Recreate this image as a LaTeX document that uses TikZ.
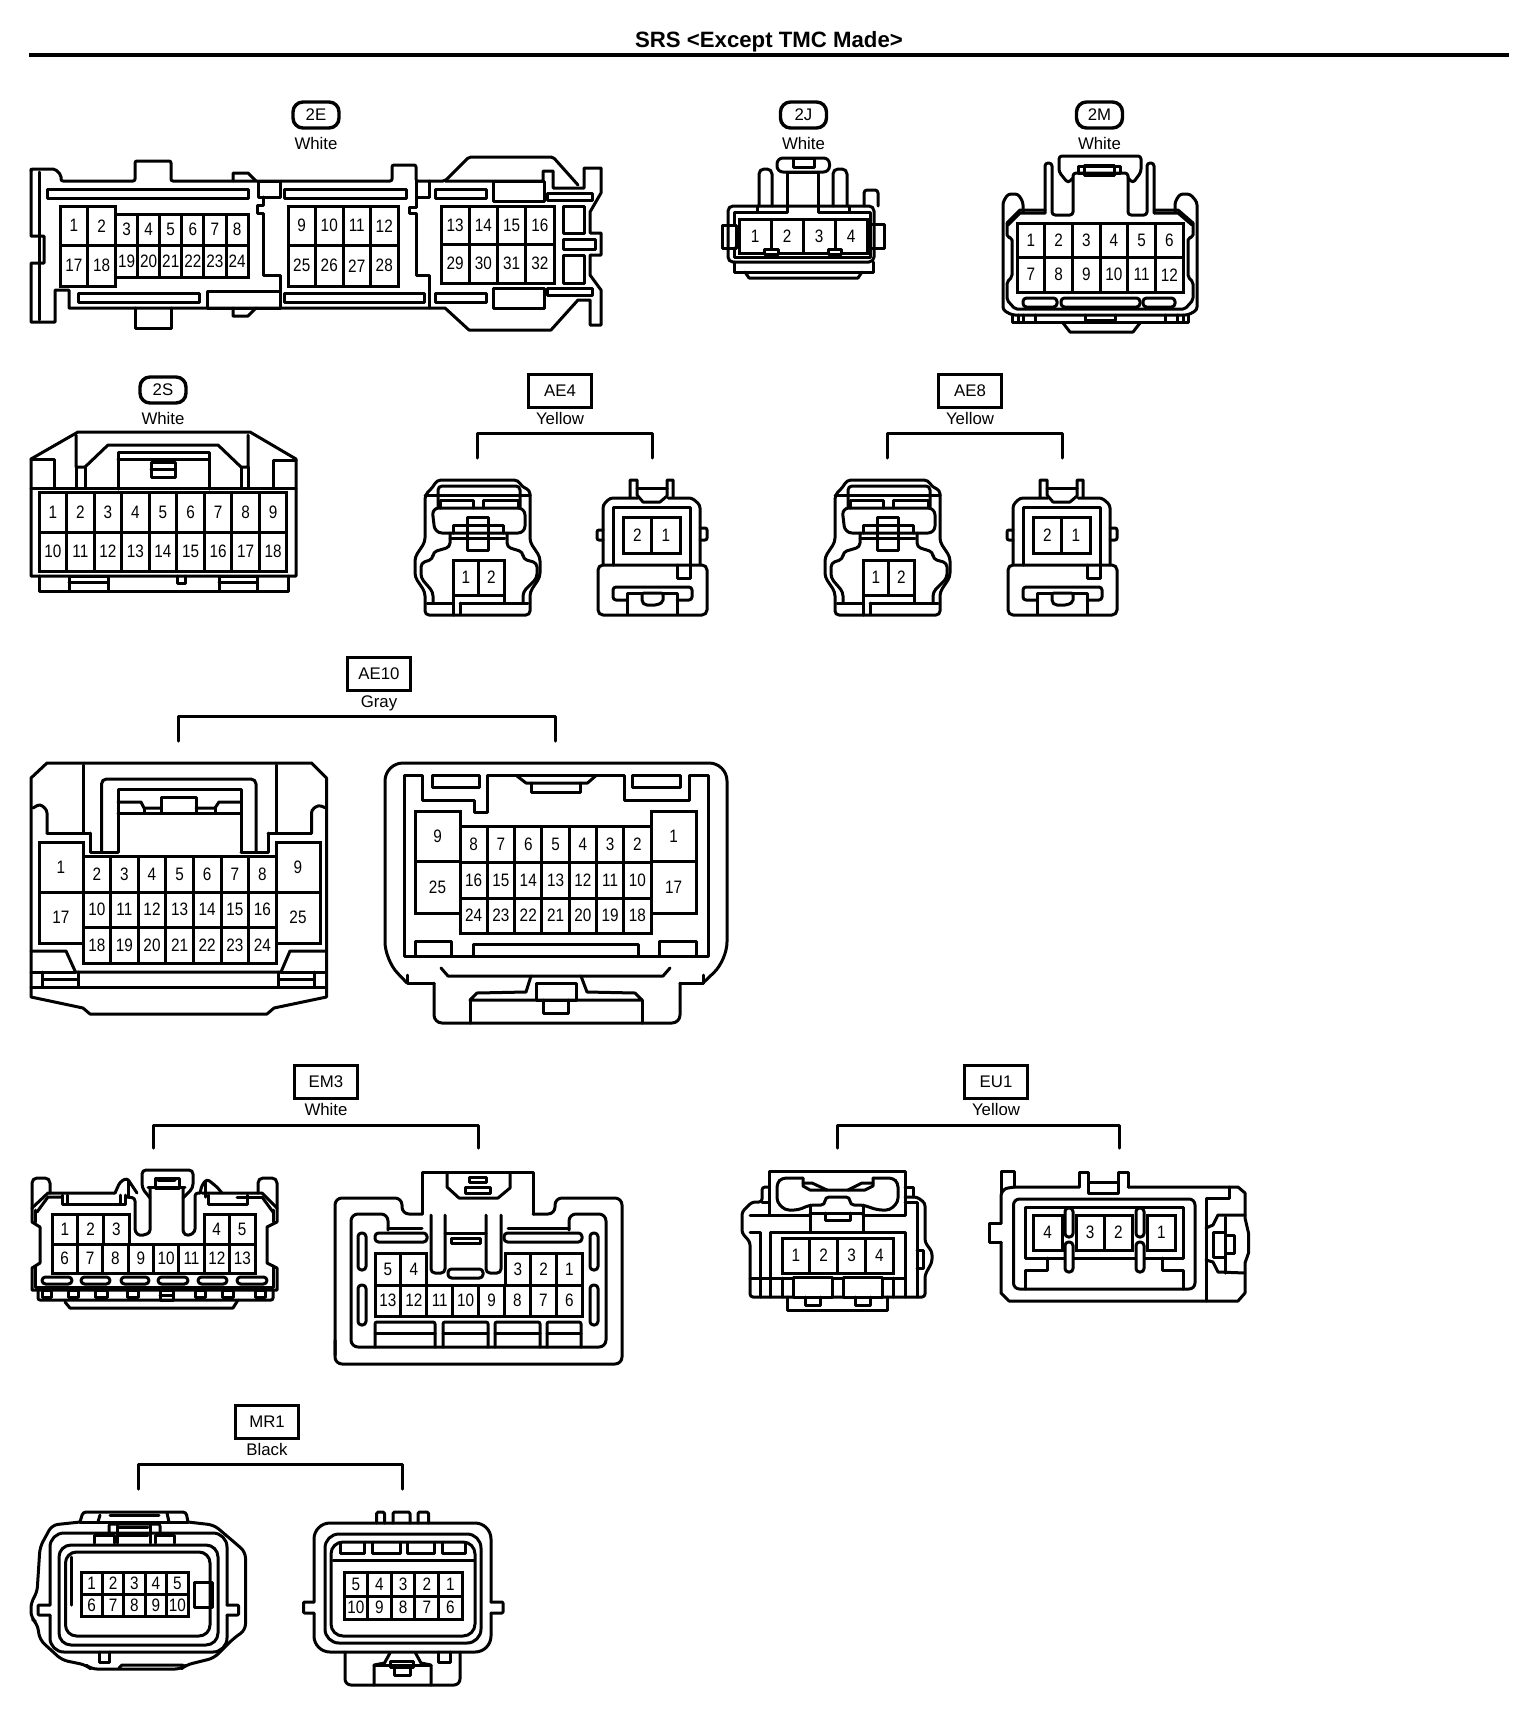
\documentclass[tikz,border=0pt]{standalone}
\usepackage{fontspec}
\setmainfont{Liberation Sans}
\newfontfamily\pinfont[FakeStretch=0.85]{Liberation Sans}
\usetikzlibrary{positioning}
\tikzset{
    outline/.style={line width=3pt, line join=round, line cap=round},
    slot/.style={outline, rounded corners=3.5pt},
    pincell/.style={
        rectangle,
        draw=black, line width=3pt,
        inner sep=0pt, outer sep=0pt,
        font=\pinfont\fontsize{18}{18}\selectfont
    },
    badge/.style={
        rectangle,
        rounded corners=10pt,
        draw=black, line width=3.4pt,
        minimum width=46pt,
        minimum height=26pt,
        inner sep=0pt,
        font=\fontsize{16.8}{17}\selectfont
    },
    tagbox/.style={
        rectangle,
        draw=black, line width=3pt,
        minimum width=63pt,
        minimum height=33pt,
        inner sep=0pt,
        font=\fontsize{16.8}{17}\selectfont
    },
    colourtext/.style={inner sep=0pt, font=\fontsize{16.8}{17}\selectfont}
}
\newcommand{\pinrow}[6]{%
    \foreach \l [count=\k from 0] in {#6}
        \node[pincell, minimum width=#4, minimum height=#5] (#1-\l) at ({#2+(\k+.5)*#4},{#3+#5/2}) {\l};
}
\begin{document}
\begin{tikzpicture}[x=1pt,y=-1pt]
\useasboundingbox (0,0) rectangle (1536,1710);
\node[inner sep=0pt, font=\bfseries\fontsize{22.2}{22}\selectfont] (title) at (769,42) {SRS <Except TMC Made>};
\draw[line width=3.5pt] (29,55) -- (1509,55);

\node[badge] (tag2E) at (316,115) {2E};
\node[colourtext, below=7pt of tag2E] (col2E) {White};
\draw[outline, rounded corners=2pt] (31,170) -- (31,169) -- (55,169) -- (61,175) -- (61,181) -- (135,181) -- (135,161) -- (171,161) -- (171,181) -- (392,181) -- (392,165) -- (416,165) -- (416,181) -- (445,181) -- (469,157) -- (553,157) -- (578,185);
\draw[outline] (445,181) -- (543,181) -- (543,171) -- (553,171) -- (553,188) -- (584,188) -- (584,168) -- (601,168) -- (601,193) -- (590,212) -- (590,233) -- (601,233) -- (601,255) -- (590,255) -- (590,275) -- (601,290) -- (601,325) -- (590,325) -- (590,300) -- (578,300) -- (551,330) -- (469,330) -- (445,308) -- (69,308) -- (69,290) -- (55,290) -- (55,322) -- (31,322) -- (31,263) -- (44,263) -- (44,236) -- (31,236) -- (31,169);
\draw[outline] (39,172) -- (39,320);
\draw[outline] (135,308) -- (135,328) -- (171,328) -- (171,308);
\draw[outline] (233,181) -- (233,173) -- (248,173) -- (256,181);
\draw[outline] (233,308) -- (233,316) -- (248,316) -- (256,308);
\foreach \xa/\ya/\xb/\yb in {47/189/248/198, 284/189/406/198, 435/189/486/198, 493/181/544/201, 547/193/592/200, 78/293/199/302, 284/293/424/302, 435/293/486/302, 493/288/544/308, 547/288/592/295, 207/291/280/308, 563/206/584/233, 563/239/595/249, 563/255/584/283, 258/181/280/197}
    \draw[outline] (\xa,\ya) rectangle (\xb,\yb);
\draw[outline] (263,197) -- (263,205) -- (257,205) -- (257,213) -- (263,213) -- (263,275) -- (280,275) -- (280,308);
\draw[outline] (416,181) -- (416,197) -- (429,197) -- (429,181);
\draw[outline] (416,197) -- (416,207) -- (409,207) -- (409,213) -- (416,213) -- (416,275) -- (429,275) -- (429,308);
\pinrow{2E}{60}{206}{27.7}{39.5}{1,2}
\pinrow{2E}{60}{245.5}{27.7}{40.5}{17,18}
\pinrow{2E}{115.5}{214}{22.1}{31.5}{3,4,5,6,7,8}
\pinrow{2E}{115.5}{245.5}{22.1}{31.5}{19,20,21,22,23,24}
\pinrow{2E}{288}{206}{27.5}{39.5}{9,10,11,12}
\pinrow{2E}{288}{245.5}{27.5}{40.5}{25,26,27,28}
\pinrow{2E}{441}{206}{28.25}{38}{13,14,15,16}
\pinrow{2E}{441}{244}{28.25}{39}{29,30,31,32}

\node[badge] (tag2J) at (803.5,115) {2J};
\node[colourtext, below=7pt of tag2J] (col2J) {White};
\draw[outline, rounded corners=5pt] (728,206) rectangle (874,262);
\draw[outline] (734,225) -- (734,212) -- (757,212);
\draw[outline] (849,212) -- (870,212) -- (870,225);
\draw[outline] (734,248) -- (734,257) -- (870,257) -- (870,248);
\draw[outline] (734,262) -- (734,272) -- (873,272) -- (873,262);
\draw[outline] (745,272) -- (749,278) -- (858,278) -- (862,272);
\draw[outline] (722,225) rectangle (736,248);
\draw[outline] (870,224) rectangle (884,248);
\draw[outline, rounded corners=3pt] (864,206) -- (864,190) -- (878,190) -- (878,206);
\draw[outline, rounded corners=5pt] (759,206) -- (759,169) -- (772,169) -- (772,206);
\draw[outline, rounded corners=5pt] (833,206) -- (833,169) -- (847,169) -- (847,206);
\draw[outline] (757,206) -- (757,212) -- (787,212) -- (787,172) -- (818,172) -- (818,212) -- (849,212) -- (849,206);
\draw[slot, rounded corners=6pt] (777,158) rectangle (829.5,172);
\draw[outline] (793,158) rectangle (814,167);
\pinrow{2J}{739}{219}{32}{34}{1,2,3,4}
\draw[outline, fill=white] (764,249) rectangle (778,254);
\draw[outline, fill=white] (828,249) rectangle (841,254);

\node[badge] (tag2M) at (1099.5,115) {2M};
\node[colourtext, below=7pt of tag2M] (col2M) {White};
\draw[outline, rounded corners=3pt] (1023,212) -- (1023,202) -- (1018,194) -- (1008,194) -- (1003,202) -- (1003,310) -- (1012,315) -- (1188,315) -- (1197,310) -- (1197,202) -- (1190,194) -- (1180,194) -- (1175,202) -- (1175,212);
\draw[outline] (1007,223) -- (1020,210) -- (1045,210);
\draw[outline] (1008,225) -- (1020,213) -- (1045,213);
\draw[outline] (1154,210) -- (1178,210) -- (1193,223);
\draw[outline] (1154,213) -- (1178,213) -- (1192,225);
\draw[outline, rounded corners=3pt] (1045,213) -- (1045,163) -- (1052,163) -- (1052,215) -- (1073,215) -- (1073,173) -- (1128,173) -- (1128,215) -- (1147,215) -- (1147,163) -- (1154,163) -- (1154,213);
\draw[outline, rounded corners=2pt] (1007,223) -- (1007,237) -- (1012,238) -- (1012,277) -- (1007,282) -- (1007,300) -- (1015,309) -- (1185,309) -- (1193,300) -- (1193,282) -- (1188,277) -- (1188,238) -- (1193,237) -- (1193,223);
\draw[outline, rounded corners=3pt] (1073,178) -- (1068,183) -- (1059,172) -- (1059,156) -- (1141,156) -- (1141,172) -- (1133,183) -- (1128,178);
\draw[outline] (1078,166) rectangle (1120,173);
\draw[outline] (1084,165) -- (1084,175) -- (1114,175) -- (1114,165) -- cycle;
\pinrow{2M}{1017}{223}{27.7}{34.5}{1,2,3,4,5,6}
\pinrow{2M}{1017}{257.5}{27.7}{34.5}{7,8,9,10,11,12}
\draw[slot] (1023,298) rectangle (1057,307);
\draw[slot] (1061,298) rectangle (1140,307);
\draw[slot] (1143,298) rectangle (1175,307);
\draw[outline] (1012,315) -- (1012,322) -- (1188,322) -- (1188,315);
\foreach \xa in {1018,1023,1035,1165,1177,1183}
    \draw[outline] (\xa,315) -- (\xa,322);
\draw[outline] (1063,323) -- (1070,332) -- (1133,332) -- (1140,323);
\draw[outline] (1085,315) -- (1085,320) -- (1115,320) -- (1115,315);

\node[badge] (tag2S) at (163,390) {2S};
\node[colourtext, below=7pt of tag2S] (col2S) {White};
\draw[outline] (31,459) -- (78,432) -- (250,432) -- (296,459) -- (296,576) -- (31,576) -- cycle;
\draw[outline] (31,459) -- (54,459) -- (54,488);
\draw[outline] (296,460) -- (273,460) -- (273,488);
\draw[outline] (76,435) -- (76,467) -- (85,467) -- (108,445) -- (218,445) -- (241,467) -- (248,467) -- (248,435);
\draw[outline] (31,488) -- (296,488);
\draw[outline] (76,467) -- (76,488);
\draw[outline] (85,467) -- (85,488);
\draw[outline] (241,467) -- (241,488);
\draw[outline] (248,467) -- (248,488);
\draw[outline] (118,489) -- (118,452) -- (209,452) -- (209,489);
\draw[outline] (118,459) -- (209,459);
\draw[outline] (151,462) rectangle (175,477);
\draw[outline] (151,469) -- (175,469);
\pinrow{2S}{39}{492}{27.55}{40}{1,2,3,4,5,6,7,8,9}
\pinrow{2S}{39}{532}{27.55}{39}{10,11,12,13,14,15,16,17,18}
\draw[outline] (39,576) -- (39,591) -- (288,591) -- (288,576);
\draw[outline] (69,576) rectangle (108,591);
\draw[outline] (69,582) -- (108,582);
\draw[outline] (219,576) rectangle (257,591);
\draw[outline] (219,582) -- (257,582);
\draw[outline] (177,576) -- (177,583) -- (185,583) -- (185,576);

\foreach \dx/\nm in {0/AE4,410/AE8}{
\begin{scope}[shift={(\dx,0)}]
\node[tagbox] (tag\nm) at (560,390.5) {\nm};
\node[colourtext, below=4pt of tag\nm] (col\nm) {Yellow};
\draw[outline] (477.5,458) -- (477.5,433) -- (652,433) -- (652,458);
\draw[outline, rounded corners=4pt] (425,605) -- (425,615) -- (530,615) -- (530,592) -- (540,577) -- (540,557) -- (530,542) -- (530,490) -- (522,487) -- (518,480) -- (437,480) -- (433,487) -- (425,495) -- (425,542) -- (415,557) -- (415,577) -- (425,592) -- (425,605);
\draw[outline, rounded corners=4pt] (438,507) -- (438,486) -- (520,486) -- (520,507);
\draw[outline] (425,495) -- (530,495);
\draw[outline] (440,508) -- (440,500) -- (473,500) -- (473,508);
\draw[outline] (483,508) -- (483,500) -- (518,500) -- (518,508);
\draw[outline, rounded corners=7pt] (432,508) -- (435,533) -- (525,533) -- (525,508) -- cycle;
\draw[outline] (453,533) -- (453,525) -- (503,525) -- (503,533);
\draw[outline] (450,538) -- (505,538);
\draw[outline, rounded corners=4pt] (450,533) -- (450,547) -- (433,552) -- (433,559) -- (421,563) -- (421,578) -- (433,592) -- (433,603);
\draw[outline, rounded corners=4pt] (507,533) -- (507,547) -- (523,552) -- (523,559) -- (537,563) -- (537,578) -- (523,592) -- (523,603);
\draw[outline] (467,517) rectangle (488,550);
\draw[outline] (427,603) -- (453,603);
\draw[outline] (460,603) -- (528,603);
\pinrow{\nm a}{453}{560}{25.5}{35}{1,2}
\draw[outline] (453,595) -- (453,615);
\draw[outline] (460,614) -- (460,603);
\draw[outline] (504,595) -- (504,603);
\draw[outline, rounded corners=3pt] (603,565) -- (603,505) -- (610,498) -- (638,498);
\draw[outline, rounded corners=3pt] (668,498) -- (692,498) -- (700,505) -- (700,565);
\draw[outline] (630,497) -- (630,480) -- (637,480) -- (637,495) -- (643,502) -- (660,502) -- (667,496) -- (667,480) -- (673,480) -- (673,497);
\draw[outline] (637,488) -- (667,488);
\draw[outline] (613,565) -- (613,507) -- (690,507) -- (690,565);
\pinrow{\nm b}{623}{517}{28.5}{36}{2,1}
\draw[outline, rounded corners=2pt] (603,530) -- (597,530) -- (597,540) -- (603,540);
\draw[outline, rounded corners=2pt] (700,528) -- (707,528) -- (707,540) -- (700,540);
\draw[outline, rounded corners=5pt] (598,565) -- (598,615) -- (707,615) -- (707,565) -- cycle;
\draw[outline] (677,565) -- (677,578) -- (690,578) -- (690,565);
\draw[outline, rounded corners=3pt] (627,600) -- (613,600) -- (613,587) -- (692,587) -- (692,600) -- (677,600);
\draw[outline] (627,614) -- (627,593) -- (642,593);
\draw[outline] (677,614) -- (677,593) -- (663,593);
\draw[outline, rounded corners=2pt] (642,593) -- (642,602) -- (645,605) -- (657,605) -- (663,602) -- (663,593) -- cycle;
\end{scope}
}

\node[tagbox] (tagAE10) at (379,673.5) {AE10};
\node[colourtext, below=4pt of tagAE10] (colAE10) {Gray};
\draw[outline] (178.5,741) -- (178.5,716) -- (555.5,716) -- (555.5,741);
\draw[outline] (31,778) -- (47,763) -- (311.5,763) -- (326.5,778) -- (326.5,997) -- (274,1008) -- (267,1014) -- (90,1014) -- (83,1008) -- (31,997) -- cycle;
\draw[outline] (83,765) -- (83,833);
\draw[outline] (276,765) -- (276,833);
\draw[outline, rounded corners=5pt] (101.5,852) -- (101.5,779) -- (256,779) -- (256,852);
\draw[outline] (118,852) -- (118,789) -- (241,789) -- (241,852);
\draw[outline] (90,833) -- (90,852) -- (118,852);
\draw[outline] (241,852) -- (268,852) -- (268,833);
\draw[outline] (47,833) -- (90,833);
\draw[outline] (268,833) -- (311.5,833);
\draw[outline, rounded corners=3pt] (33,808) -- (40,804) -- (47,810) -- (47,833);
\draw[outline, rounded corners=3pt] (311.5,833) -- (311.5,810) -- (318.5,805) -- (326,808);
\draw[outline] (118,813) -- (241,813);
\draw[outline] (161,797) rectangle (196,813);
\draw[outline] (118,802) -- (141,802) -- (144,808) -- (161,808);
\draw[outline] (196,808) -- (215,808) -- (219,802) -- (241,802);
\draw[outline] (144,808) -- (144,813);
\draw[outline] (215,808) -- (215,813);
\pinrow{AE10a}{39}{842}{44}{50}{1}
\pinrow{AE10a}{39}{892}{44}{51}{17}
\pinrow{AE10a}{276}{842}{44}{50}{9}
\pinrow{AE10a}{276}{892}{44}{51}{25}
\pinrow{AE10a}{83}{856}{27.6}{36}{2,3,4,5,6,7,8}
\pinrow{AE10a}{83}{892}{27.6}{35}{10,11,12,13,14,15,16}
\pinrow{AE10a}{83}{927}{27.6}{36}{18,19,20,21,22,23,24}
\draw[outline] (31,951) -- (66,951) -- (75.5,972) -- (281,972) -- (290,951) -- (326.5,951);
\draw[outline] (31,987) -- (326.5,987);
\draw[outline] (42.5,972) -- (42.5,987);
\draw[outline] (78,972) -- (78,987);
\draw[outline] (42.5,979) -- (78,979);
\draw[outline] (31,972) -- (75.5,972);
\draw[outline] (281,972) -- (326.5,972);
\draw[outline] (278.5,972) -- (278.5,987);
\draw[outline] (314,972) -- (314,987);
\draw[outline] (278.5,979) -- (314,979);

\draw[outline, rounded corners=18pt] (407,983) -- (385,960) -- (385,763) -- (727,763) -- (727,960) -- (703,983);
\draw[outline] (407,975) -- (407,983) -- (434,983);
\draw[outline] (680,983) -- (703,983) -- (703,975);
\draw[outline, rounded corners=8pt] (434,983) -- (434,1023) -- (680,1023) -- (680,983);
\draw[outline] (404.5,956) -- (404.5,775) -- (422,775) -- (422,800) -- (474,800) -- (474,812) -- (487.5,812) -- (487.5,775) -- (624,775) -- (624,800) -- (689,800) -- (689,775) -- (708,775) -- (708,956) -- cycle;
\draw[outline] (432,775) rectangle (479,787);
\draw[outline] (632,775) rectangle (680,787);
\draw[outline] (517,776) -- (526,783) -- (587.5,783) -- (595.5,776);
\draw[outline] (531,783) -- (531,792) -- (580,792) -- (580,783);
\pinrow{AE10b}{415}{811}{45}{50}{9}
\pinrow{AE10b}{415}{861}{45}{52}{25}
\pinrow{AE10b}{651}{811}{45}{50}{1}
\pinrow{AE10b}{651}{861}{45}{52}{17}
\pinrow{AE10b}{460}{826}{27.3}{36}{8,7,6,5,4,3,2}
\pinrow{AE10b}{460}{862}{27.3}{36}{16,15,14,13,12,11,10}
\pinrow{AE10b}{460}{898}{27.3}{35}{24,23,22,21,20,19,18}
\draw[outline] (415,956) -- (415,941) -- (451,941) -- (451,956);
\draw[outline] (473,956) -- (473,944) -- (638,944) -- (638,956);
\draw[outline] (659,956) -- (659,941) -- (696,941) -- (696,956);
\draw[outline] (441,968) -- (448,976) -- (663,976) -- (670,968);
\draw[outline] (531,976) -- (526,992) -- (477,993) -- (470,1000) -- (642,1000) -- (635,993) -- (587,992) -- (581,976);
\draw[outline] (536,983) rectangle (576,1000);
\draw[outline] (543,1000) -- (543,1013) -- (568,1013) -- (568,1000);
\draw[outline] (470,1000) -- (470,1023);
\draw[outline] (642,1000) -- (642,1023);

\node[tagbox] (tagEM3) at (326,1082) {EM3};
\node[colourtext, below=3pt of tagEM3] (colEM3) {White};
\draw[outline] (153.5,1148) -- (153.5,1125) -- (478,1125) -- (478,1148);
\draw[outline] (32,1208) -- (48,1193) -- (115,1193);
\draw[outline] (37,1212) -- (48,1197) -- (62,1197);
\draw[outline] (202,1193) -- (262,1193) -- (277,1208);
\draw[outline] (262,1197) -- (273,1212);
\draw[outline] (237,1197) -- (262,1197);
\draw[outline, rounded corners=5pt] (32,1208) -- (32,1178) -- (50,1178) -- (50,1193);
\draw[outline, rounded corners=5pt] (258,1193) -- (258,1178) -- (277,1178) -- (277,1208);
\draw[outline] (32,1208) -- (32,1222) -- (40,1227) -- (40,1263) -- (32,1268) -- (32,1290) -- (277,1290) -- (277,1268) -- (267,1263) -- (267,1227) -- (277,1222) -- (277,1208);
\draw[outline] (35,1210) -- (35,1222);
\draw[outline] (35,1266) -- (35,1287) -- (273,1287) -- (273,1266);
\draw[outline] (273,1210) -- (273,1222);
\draw[outline] (62,1195) -- (62,1204) -- (125,1204) -- (125,1195);
\draw[outline] (67,1195) -- (67,1203);
\draw[outline] (120,1195) -- (120,1203);
\draw[outline] (208,1195) -- (208,1204) -- (247,1204) -- (247,1195);
\draw[outline, rounded corners=3pt] (115,1193) -- (120,1182) -- (127,1178) -- (137,1193);
\draw[outline, rounded corners=3pt] (200,1193) -- (202,1185) -- (207,1179) -- (217,1187) -- (222,1193);
\draw[outline] (128,1180) -- (128,1197);
\draw[outline] (205,1181) -- (205,1197);
\draw[outline, rounded corners=3pt] (127,1197) -- (135,1198) -- (135,1232) -- (140,1236) -- (150,1233) -- (150,1188);
\draw[outline, rounded corners=3pt] (183,1188) -- (183,1233) -- (188,1236) -- (195,1232) -- (195,1193) -- (200,1193);
\draw[outline, rounded corners=4pt] (150,1198) -- (142,1188) -- (142,1170) -- (193,1170) -- (193,1188) -- (183,1198);
\draw[outline] (148,1187) -- (185,1187);
\draw[outline] (155,1178) rectangle (179,1188);
\draw[outline] (158,1180) -- (175,1180);
\pinrow{EM3a}{52}{1214}{25.8}{30}{1,2,3}
\pinrow{EM3a}{204}{1214}{25.5}{30}{4,5}
\pinrow{EM3a}{52}{1244}{25.375}{29}{6,7,8,9,10,11,12,13}
\foreach \xa/\xb in {42/72,81/110,121/149,158/188,198/227,237/267}
    \draw[slot] (\xa,1277) rectangle (\xb,1284);
\draw[outline, rounded corners=2pt] (38,1291) -- (38,1300) -- (273,1300) -- (273,1291);
\foreach \xa/\xb in {42/51,68/78,95/107,127/138,195/205,222/233,255/265}
    \draw[outline] (\xa,1290) rectangle (\xb,1297);
\draw[outline] (160,1290) rectangle (173,1300);
\draw[outline] (160,1295) -- (173,1295);
\draw[outline] (65,1302) -- (70,1308) -- (233,1308) -- (238,1300);

\draw[outline, rounded corners=7pt] (335,1355) -- (335,1198) -- (402,1198) -- (402,1214) -- (422,1214);
\draw[outline] (422,1214) -- (422,1172) -- (533,1172) -- (533,1214);
\draw[outline, rounded corners=7pt] (533,1214) -- (555,1214) -- (555,1198) -- (622,1198) -- (622,1364) -- (335,1364) -- (335,1340);
\draw[outline, rounded corners=7pt] (388,1230) -- (388,1214) -- (351,1214) -- (351,1347) -- (606,1347) -- (606,1214) -- (569,1214) -- (569,1230);
\draw[outline] (447,1173) -- (447,1187) -- (459,1198) -- (498,1198) -- (510,1188) -- (510,1173);
\draw[outline] (469,1177) rectangle (486,1182);
\draw[outline] (465,1187) rectangle (490,1193);
\draw[outline] (388,1228) -- (422,1228);
\draw[outline] (508,1228) -- (569,1228);
\draw[outline, rounded corners=4pt] (431,1215) -- (431,1273) -- (445,1273) -- (445,1215);
\draw[outline, rounded corners=4pt] (486,1215) -- (486,1273) -- (501,1273) -- (501,1215);
\draw[outline] (445,1233) -- (486,1233);
\draw[outline] (451,1238) rectangle (480,1243);
\draw[slot] (448,1269) rectangle (483,1278);
\draw[slot] (375,1233) rectangle (427,1242);
\draw[slot] (504,1233) rectangle (582,1242);
\foreach \xa/\ya/\yb in {358/1233/1270,358/1285/1325,590/1233/1270,590/1285/1325}
    \draw[slot] (\xa,\ya) rectangle ({\xa+8},\yb);
\pinrow{EM3b}{375}{1253}{25.9}{32}{5,4}
\pinrow{EM3b}{505}{1253}{25.7}{32}{3,2,1}
\pinrow{EM3b}{375}{1285}{25.9}{31}{13,12,11,10,9,8,7,6}
\foreach \xa/\xb in {375/435,443/488,495/540,547/581}{
    \draw[outline, rounded corners=2pt] (\xa,1347) -- (\xa,1322) -- (\xb,1322) -- (\xb,1347);
    \draw[outline] (\xa,1333) -- (\xb,1333);
}

\node[tagbox] (tagEU1) at (996,1082) {EU1};
\node[colourtext, below=3pt of tagEU1] (colEU1) {Yellow};
\draw[outline] (837,1148) -- (837,1125) -- (1119,1125) -- (1119,1148);
\draw[outline] (769,1215) -- (769,1171) -- (905,1171) -- (905,1215);
\draw[outline, rounded corners=3pt] (769,1187) -- (762,1187) -- (762,1202) -- (752,1202) -- (742,1212) -- (742,1233) -- (750,1242) -- (750,1297) -- (925,1297) -- (925,1275) -- (932,1262) -- (932,1252) -- (925,1242) -- (925,1203) -- (917,1197) -- (905,1197);
\draw[outline] (905,1187) -- (913,1187) -- (913,1197);
\draw[outline] (762,1202) -- (769,1202);
\draw[outline, rounded corners=4pt] (803,1178) -- (782,1178) -- (777,1183) -- (777,1202) -- (785,1210) -- (798,1210) -- (810,1205) -- (825,1205) -- (825,1197) -- (850,1197) -- (850,1205) -- (863,1205) -- (878,1210) -- (890,1210) -- (898,1202) -- (898,1183) -- (893,1178) -- (873,1178);
\draw[outline] (803,1178) -- (803,1186) -- (810,1190) -- (865,1190) -- (873,1186) -- (873,1178);
\draw[outline] (803,1183) -- (812,1183) -- (827,1190);
\draw[outline] (848,1190) -- (862,1183) -- (873,1183);
\draw[outline] (810,1205) -- (810,1232);
\draw[outline] (863,1205) -- (863,1232);
\draw[outline] (810,1213) -- (863,1213);
\draw[outline] (825,1213) -- (825,1220) -- (850,1220) -- (850,1213);
\draw[outline] (750,1215) -- (810,1215);
\draw[outline] (863,1215) -- (905,1215);
\draw[outline] (750,1232) -- (760,1232) -- (760,1297);
\draw[outline] (905,1202) -- (917,1202) -- (917,1297);
\draw[outline] (770,1297) -- (770,1232) -- (905,1232) -- (905,1297);
\pinrow{EU1a}{782}{1238}{27.8}{35}{1,2,3,4}
\draw[outline] (750,1278) -- (770,1278);
\draw[outline] (770,1278) -- (905,1278);
\draw[outline, fill=white] (793,1277) rectangle (832,1297);
\draw[outline, fill=white] (843,1277) rectangle (882,1297);
\foreach \xa in {782,893}
    \draw[outline] (\xa,1278) -- (\xa,1297);
\draw[outline] (787,1297) -- (787,1310) -- (887,1310) -- (887,1297);
\draw[outline] (805,1297) -- (805,1305) -- (820,1305) -- (820,1297);
\draw[outline] (855,1297) -- (855,1305) -- (870,1305) -- (870,1297);
\draw[outline] (917,1250) -- (923,1250) -- (923,1268) -- (917,1268);

\draw[outline] (1014,1187) -- (1014,1171) -- (1001,1171) -- (1001,1193);
\draw[outline, rounded corners=6pt] (1001,1223) -- (1001,1190) -- (1011,1187) -- (1079,1187);
\draw[outline] (1128,1187) -- (1238,1187) -- (1245,1193) -- (1245,1218) -- (1248.5,1233) -- (1248.5,1253) -- (1245,1263) -- (1245,1293) -- (1238,1301) -- (1009,1301) -- (1001,1293) -- (1001,1242);
\draw[outline] (1001,1223) -- (989,1223) -- (989,1242) -- (1001,1242);
\draw[outline] (1079,1187) -- (1079,1172) -- (1088,1172) -- (1088,1182) -- (1118,1182) -- (1118,1172) -- (1128,1172) -- (1128,1187);
\draw[outline] (1088,1182) -- (1088,1193) -- (1118,1193) -- (1118,1182);
\draw[outline, rounded corners=6pt] (1013.5,1199) rectangle (1195,1289);
\draw[outline] (1025,1207) rectangle (1183,1258);
\draw[outline] (1025,1289) -- (1025,1270) -- (1047,1270) -- (1047,1258);
\draw[outline] (1183,1289) -- (1183,1270) -- (1162,1270) -- (1162,1258);
\pinrow{EU1b}{1033}{1215}{29}{35}{4}
\pinrow{EU1b}{1076}{1215}{28.2}{35}{3,2}
\pinrow{EU1b}{1147.5}{1215}{27.5}{35}{1}
\foreach \xa/\ya/\yb in {1065/1208/1237,1065/1242/1272,1136/1208/1237,1136/1242/1272}
    \draw[slot, fill=white] (\xa,\ya) rectangle ({\xa+8},\yb);
\draw[outline] (1206,1301) -- (1206,1198) -- (1229,1198) -- (1229,1187);
\draw[outline] (1206,1228) -- (1213,1225) -- (1218,1215) -- (1245,1215);
\draw[outline] (1206,1260) -- (1213,1262) -- (1218,1272) -- (1245,1273);
\draw[outline] (1213,1232) rectangle (1225,1257);
\draw[outline] (1225,1235) rectangle (1234,1253);
\draw[outline] (1225,1217) -- (1225,1273);

\node[tagbox] (tagMR1) at (267,1422) {MR1};
\node[colourtext, below=3pt of tagMR1] (colMR1) {Black};
\draw[outline] (138,1489) -- (138,1464) -- (402.4,1464) -- (402.4,1489);
\draw[outline, rounded corners=6pt] (80,1522) -- (52,1525) -- (40,1547) -- (37,1593) -- (31,1602) -- (31,1618) -- (37,1623) -- (40,1640) -- (62,1660) -- (86,1665) -- (91,1669) -- (181,1669) -- (186,1665) -- (214,1658) -- (234,1638) -- (245.5,1630) -- (245.5,1552) -- (234,1542) -- (214,1525) -- (188,1522);
\draw[outline, rounded corners=3pt] (80,1522) -- (83,1512) -- (186,1512) -- (188,1522);
\draw[outline, rounded corners=6pt] (80,1522) -- (188,1522);
\draw[outline, rounded corners=14pt] (50,1605) -- (50,1533) -- (227,1533) -- (227,1605);
\draw[outline, rounded corners=14pt] (227,1615) -- (227,1652) -- (50,1652) -- (50,1615);
\draw[outline, rounded corners=1pt] (50,1605) -- (38,1605) -- (38,1615) -- (50,1615);
\draw[outline, rounded corners=1pt] (227,1605) -- (238.6,1605) -- (238.6,1615) -- (227,1615);
\draw[outline, rounded corners=12pt] (59,1545) rectangle (218,1645);
\draw[outline, rounded corners=11pt] (65.5,1552) rectangle (210,1636);
\pinrow{MR1a}{81}{1572}{21.4}{22}{1,2,3,4,5}
\pinrow{MR1a}{81}{1594}{21.4}{22}{6,7,8,9,10}
\draw[outline] (194,1582) rectangle (212,1607);
\draw[outline] (71,1557) -- (71,1605);
\draw[outline, rounded corners=2pt] (109,1532) -- (109,1524) -- (160,1524) -- (160,1532);
\draw[outline] (117,1525) -- (117,1543);
\draw[outline] (119,1527) -- (148,1527);
\draw[outline] (119,1535) -- (148,1535);
\draw[outline] (150,1525) -- (150,1543);
\draw[outline] (94,1543) -- (94,1535) -- (114,1535) -- (114,1543);
\draw[outline] (155,1543) -- (155,1535) -- (174,1535) -- (174,1543);
\draw[outline] (100,1515) -- (98,1522);
\draw[outline] (167,1513) -- (169,1522);
\draw[outline] (110,1515) -- (159,1515);
\draw[outline] (99,1652) -- (99,1662) -- (109,1662) -- (109,1652);
\draw[outline] (119,1668) -- (122,1665) -- (183,1665);

\draw[outline, rounded corners=16pt] (314,1602) -- (314,1523) -- (491,1523) -- (491,1602);
\draw[outline, rounded corners=16pt] (491,1613) -- (491,1652) -- (314,1652) -- (314,1613);
\draw[outline, rounded corners=1pt] (314,1602) -- (303.5,1602) -- (303.5,1613) -- (314,1613);
\draw[outline, rounded corners=1pt] (491,1602) -- (503,1602) -- (503,1613) -- (491,1613);
\draw[outline, rounded corners=14pt] (325,1534) rectangle (481,1643);
\draw[outline, rounded corners=12pt] (331,1542) rectangle (475,1636);
\draw[outline] (333,1560) -- (474,1560);
\foreach \xa/\xb in {340/364,372.4/400,407/434.5,442.4/465.5}
    \draw[outline] (\xa,1543) -- (\xa,1553) -- (\xb,1553) -- (\xb,1543);
\pinrow{MR1b}{344}{1572}{23.65}{24}{5,4,3,2,1}
\pinrow{MR1b}{344}{1596}{23.65}{23}{10,9,8,7,6}
\foreach \xa/\xb in {376.6/384.5,393/410,418/428.6}
    \draw[outline, rounded corners=1.5pt] (\xa,1523) -- (\xa,1512) -- (\xb,1512) -- (\xb,1523);
\draw[outline, rounded corners=6pt] (345,1652) -- (345,1685) -- (460,1685) -- (460,1652);
\draw[outline] (438,1652) -- (438,1662) -- (450,1662) -- (450,1652);
\draw[outline] (374,1685) -- (374,1665) -- (384.5,1663) -- (390,1653);
\draw[outline] (431,1685) -- (431,1665) -- (421,1663) -- (415.5,1653);
\draw[outline] (374,1665) -- (431,1665);
\draw[outline] (390,1661) rectangle (413,1667);
\draw[outline] (394,1667) -- (394,1675) -- (410,1675) -- (410,1667);
\end{tikzpicture}
\end{document}
